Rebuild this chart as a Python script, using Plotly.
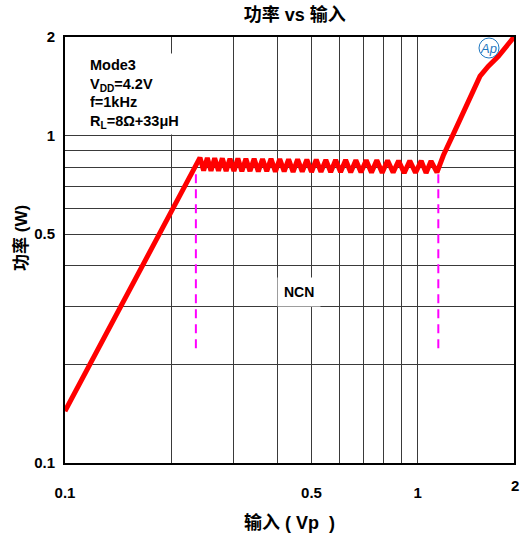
import math
import plotly.graph_objects as go

# ---------------- data ----------------
# Linear region: output power vs input amplitude
lin_vin = [0.100, 0.2414]
lin_pout = [0.144, 0.856]

# NCN region: ripple peaks / troughs
ncn_vin = [0.2472, 0.2532, 0.2594, 0.2657, 0.2724, 0.2793, 0.2863, 0.2936,
           0.3013, 0.3091, 0.3173, 0.3257, 0.3346, 0.3437, 0.3532, 0.3631,
           0.3733, 0.3838, 0.3949, 0.4063, 0.4182, 0.4305, 0.4433, 0.4566,
           0.4706, 0.4849, 0.4999, 0.5156, 0.5318, 0.5489, 0.5666, 0.5851,
           0.6044, 0.6246, 0.6457, 0.6677, 0.6906, 0.7145, 0.7396, 0.7656,
           0.7930, 0.8215, 0.8518, 0.8826, 0.9156, 0.9497, 0.9857, 1.023,
           1.056, 1.091, 1.134]
ncn_pout = [0.782, 0.855, 0.780, 0.853, 0.781, 0.852, 0.779, 0.850,
            0.780, 0.851, 0.778, 0.849, 0.779, 0.850, 0.777, 0.848,
            0.778, 0.849, 0.776, 0.847, 0.777, 0.846, 0.775, 0.846,
            0.776, 0.845, 0.774, 0.844, 0.775, 0.843, 0.773, 0.843,
            0.774, 0.842, 0.772, 0.841, 0.773, 0.840, 0.771, 0.840,
            0.770, 0.839, 0.771, 0.838, 0.769, 0.838, 0.770, 0.837,
            0.769, 0.836, 0.772]

# Clipping region
clip_vin = [1.182, 1.276, 1.362, 1.438, 1.502, 1.586, 1.693, 1.875]
clip_pout = [0.869, 1.037, 1.210, 1.382, 1.518, 1.628, 1.747, 2.0]

# NCN window markers
ncn_edges = [0.235, 1.144]
ncn_marker_p = [0.224, 0.812]

x_ticks = [0.1, 0.5, 1.0]
x_labels = ["0.1", "0.5", "1"]
x_minor = [0.2, 0.3, 0.4, 0.6, 0.7, 0.8, 0.9]
y_ticks = [0.1, 0.5, 1.0, 2.0]
y_labels = ["0.1", "0.5", "1", "2"]
y_minor = [0.2, 0.3, 0.4, 0.6, 0.7, 0.8, 0.9]
x_end = 1.875
x_end_label = "2"

FONT = "Liberation Sans, Arial, Noto Sans CJK SC, sans-serif"
GRID = "#3a3a3a"
NB = "\u00a0"

vin = lin_vin + ncn_vin + clip_vin
pout = lin_pout + ncn_pout + clip_pout

fig = go.Figure()
for xe in ncn_edges:
    fig.add_trace(go.Scatter(
        x=[xe, xe], y=ncn_marker_p, mode="lines",
        line=dict(color="#ff00ff", width=2, dash="9px,6px"),
        hoverinfo="skip", showlegend=False))

fig.add_trace(go.Scatter(
    x=vin, y=pout, mode="lines",
    line=dict(color="#ff0000", width=5),
    showlegend=False))

fig.update_layout(
    width=522, height=535,
    margin=dict(l=65, r=8, t=37, b=72, autoexpand=False),
    paper_bgcolor="white", plot_bgcolor="white",
    font=dict(family=FONT, color="black"),
    title=dict(text="功率 vs 输入", x=0.5116, xref="paper", xanchor="center",
               y=1 - 15 / 535, yref="container", yanchor="middle",
               font=dict(size=18, weight="bold", family=FONT)),
    xaxis=dict(type="log", range=[-1, math.log10(x_end)], automargin=False,
               tickmode="array", tickvals=x_ticks, ticktext=x_labels, ticks="",
               ticklabelstandoff=15,
               tickfont=dict(size=15, weight="bold"),
               showgrid=True, gridcolor=GRID, gridwidth=1.2,
               minor=dict(tickmode="array", tickvals=x_minor, showgrid=True,
                          gridcolor=GRID, gridwidth=1.2, ticks=""),
               showline=True, linecolor="black", linewidth=2, mirror=True,
               zeroline=False),
    yaxis=dict(type="log", range=[-1, math.log10(2)], automargin=False,
               tickmode="array", tickvals=y_ticks, ticktext=y_labels, ticks="",
               ticklabelstandoff=5,
               tickfont=dict(size=15, weight="bold"),
               showgrid=True, gridcolor=GRID, gridwidth=1.2,
               minor=dict(tickmode="array", tickvals=y_minor, showgrid=True,
                          gridcolor=GRID, gridwidth=1.2, ticks=""),
               showline=True, linecolor="black", linewidth=2, mirror=True,
               zeroline=False),
)

# Axis titles
fig.add_annotation(x=(289.5 - 65) / 449, xref="paper", y=(463 - 522) / 426,
                   yref="paper", text="输入 (" + NB + "Vp" + NB + NB + ")",
                   showarrow=False, xanchor="center", yanchor="middle",
                   font=dict(size=18, weight="bold", family=FONT))
fig.add_annotation(x=(21 - 65) / 449, xref="paper", y=(463 - 238) / 426,
                   yref="paper", text="功率 (W)", showarrow=False,
                   textangle=-90, xanchor="center", yanchor="middle",
                   font=dict(size=17, weight="bold", family=FONT))

# x-axis end label "2"
fig.add_annotation(x=math.log10(x_end), xref="x", y=-0.052, yref="paper",
                   text=x_end_label, showarrow=False, xanchor="right",
                   xshift=7, yanchor="middle",
                   font=dict(size=15, weight="bold", family=FONT))

# Conditions box
fig.add_annotation(
    x=0.045, xref="paper", y=0.962, yref="paper", xanchor="left", yanchor="top",
    text="Mode3<br>V<sub>DD</sub>=4.2V<br>f=1kHz<br>R<sub>L</sub>=8Ω+33μH",
    align="left", showarrow=False, bgcolor="white", borderpad=4,
    width=118, height=72,
    font=dict(size=14.5, weight="bold", family=FONT))

# NCN label
fig.add_annotation(x=math.log10(0.46), y=math.log10(0.334), xref="x", yref="y",
                   text="NCN", showarrow=False, bgcolor="white", borderpad=6,
                   xanchor="center", yanchor="middle",
                   font=dict(size=14, weight="bold", family=FONT))

# Ap logo
fig.add_annotation(x=(488 - 65) / 449, y=(463 - 48) / 426, xref="paper",
                   yref="paper", text="<i>Ap</i>", showarrow=False,
                   xanchor="center", yanchor="middle",
                   font=dict(size=13, color="#1f78c1", family=FONT))
fig.add_shape(type="circle", xref="paper", yref="paper",
              x0=(479 - 65) / 449, x1=(499 - 65) / 449,
              y0=(463 - 58) / 426, y1=(463 - 38) / 426,
              line=dict(color="#1f78c1", width=1))

fig.write_html("out.html",
               config={"displayModeBar": False},
               post_script="document.body.style.margin='0';")
